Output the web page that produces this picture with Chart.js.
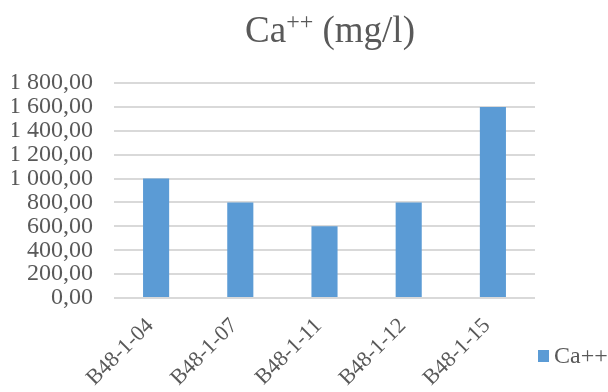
<!DOCTYPE html>
<html>
<head>
<meta charset="utf-8">
<script src="https://cdn.jsdelivr.net/npm/chart.js@4/dist/chart.umd.min.js"></script>
<style>
  html, body { margin: 0; padding: 0; background: #ffffff; }
  #wrap { width: 608px; height: 392px; }
</style>
</head>
<body>
<div id="wrap"><canvas id="chart" width="608" height="392"></canvas></div>
<script>
// Sample wells and their calcium concentration (mg/l)
const categories = ["B48-1-04", "B48-1-07", "B48-1-11", "B48-1-12", "B48-1-15"];
const caValues = [1000, 800, 600, 800, 1600];
const seriesName = "Ca++";
const yMin = 0;
const yMax = 1800;
const yStep = 200;

const SERIF = '"Liberation Serif", "Times New Roman", Times, serif';
const TEXT = '#595959';
const GRID = '#d9d9d9';
const BAR = '#5b9bd5';

// "1 800,00" style: space for thousands, comma for decimals
function fmt(v) {
  const parts = Number(v).toFixed(2).split('.');
  const int = parts[0].replace(/\B(?=(\d{3})+(?!\d))/g, ' ');
  return int + ',' + parts[1];
}

// Title with a raised "++" after Ca
const titlePlugin = {
  id: 'superTitle',
  afterDraw(chart) {
    const ctx = chart.ctx;
    const big = '37px ' + SERIF;
    const small = '24px ' + SERIF;
    const a = 'Ca', sup = '++', b = ' (mg/l)';
    ctx.save();
    ctx.fillStyle = TEXT;
    ctx.textBaseline = 'alphabetic';
    ctx.textAlign = 'left';
    ctx.font = big;
    const wa = ctx.measureText(a).width;
    const wb = ctx.measureText(b).width;
    ctx.font = small;
    const ws = ctx.measureText(sup).width;
    const total = wa + ws + wb;
    let x = 330 - total / 2;
    const base = 42;
    ctx.font = big;
    ctx.fillText(a, x, base);
    x += wa;
    ctx.font = small;
    ctx.fillText(sup, x, base - 13);
    x += ws;
    ctx.font = big;
    ctx.fillText(b, x, base);
    ctx.restore();
  }
};

// Single-entry legend at the lower right, beside the plot
const legendPlugin = {
  id: 'cornerLegend',
  afterDraw(chart) {
    const ctx = chart.ctx;
    const area = chart.chartArea;
    const ds = chart.data.datasets[0];
    const bx = area.right + 3;
    const by = 350;
    ctx.save();
    ctx.fillStyle = ds.backgroundColor;
    ctx.fillRect(bx, by, 11, 12);
    ctx.fillStyle = TEXT;
    ctx.font = '24px ' + SERIF;
    ctx.textAlign = 'left';
    ctx.textBaseline = 'middle';
    ctx.fillText(ds.label, bx + 16, by + 7);
    ctx.restore();
  }
};

new Chart(document.getElementById('chart'), {
  type: 'bar',
  data: {
    labels: categories,
    datasets: [{
      label: seriesName,
      data: caValues,
      backgroundColor: BAR,
      borderWidth: 0,
      barPercentage: 0.31,
      categoryPercentage: 1.0
    }]
  },
  options: {
    responsive: false,
    animation: false,
    events: [],
    layout: { padding: { top: 83, left: 12, right: 73, bottom: 0 } },
    plugins: {
      title: { display: false },
      tooltip: { enabled: false },
      legend: { display: false }
    },
    scales: {
      x: {
        grid: { display: false, drawTicks: false },
        border: { display: false },
        afterFit(scale) { scale.height = 94; },
        ticks: {
          color: TEXT,
          font: { family: SERIF, size: 22 },
          minRotation: 45,
          maxRotation: 45,
          padding: 15,
          labelOffset: -6,
          autoSkip: false
        }
      },
      y: {
        min: yMin,
        max: yMax,
        grid: { color: GRID, lineWidth: 2, drawTicks: false },
        border: { display: false },
        afterFit(scale) { scale.width = 102; },
        ticks: {
          stepSize: yStep,
          autoSkip: false,
          color: TEXT,
          font: { family: SERIF, size: 24 },
          padding: 21,
          callback: (v) => fmt(v)
        }
      }
    }
  },
  plugins: [titlePlugin, legendPlugin]
});
</script>
</body>
</html>
